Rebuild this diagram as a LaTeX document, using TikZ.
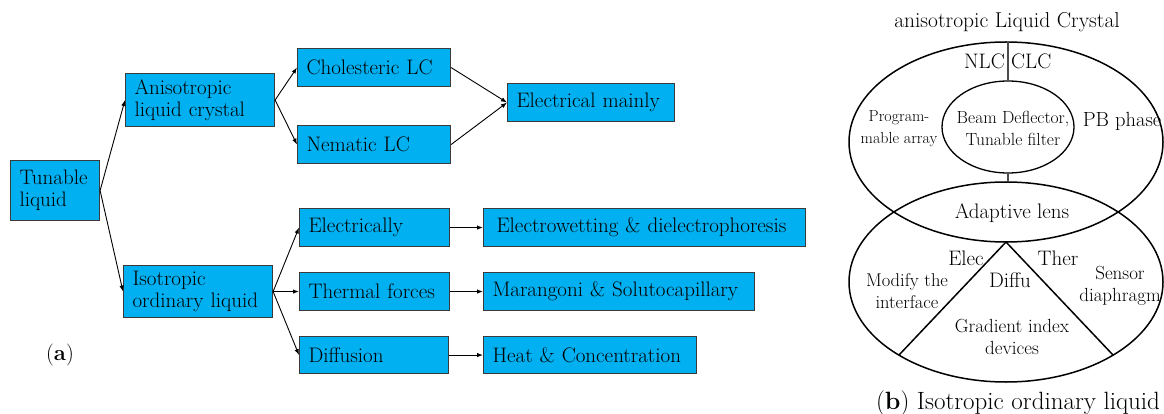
\documentclass[tikz,border=0pt]{standalone}
\usepackage{fontspec}
\usetikzlibrary{arrows.meta,positioning,calc}
\definecolor{lcblue}{HTML}{00B0F0}
\definecolor{boxline}{HTML}{3A3A3A}
\newcommand{\setfs}[2]{\fontsize{#1}{#2}\selectfont}

\begin{document}
\begin{tikzpicture}[x=1pt, y=-1pt, >={Latex[length=6pt,width=4.5pt]}, font=\setfs{21}{22},
  box/.style={draw=boxline, line width=1.1pt, fill=lcblue, anchor=north west, align=left,
    inner xsep=9pt, inner ysep=0pt, minimum height=38pt},
  arr/.style={->, line width=0.9pt},
  ring/.style={line width=1.5pt},
  tag/.style={align=center, font=\setfs{18.5}{21.5}}]
\useasboundingbox (0,0) rectangle (1164,414);

% (a) classification tree
\node[box, text width=71pt, minimum height=60pt] (tun) at (10,160) {Tunable\\liquid};
\node[box, text width=131pt, minimum height=53pt] (ani) at (125,73) {Anisotropic\\liquid crystal};
\node[box, text width=135pt] (cho) at (297,48) {Cholesteric LC};
\node[box, text width=135pt] (nem) at (297,125) {Nematic LC};
\node[box, text width=149pt] (elm) at (507,83) {Electrical mainly};
\node[box, text width=131pt, minimum height=52pt] (iso) at (123,265) {Isotropic\\ordinary liquid};
\node[box, text width=132pt] (elc) at (299,208) {Electrically};
\node[box, text width=132pt] (thf) at (299,272) {Thermal forces};
\node[box, text width=131pt, minimum height=37pt] (dif) at (299,336) {Diffusion};
\node[box, text width=296pt, inner xsep=13pt] (ewd) at (483,208) {Electrowetting \& dielectrophoresis};
\node[box, text width=253pt] (mar) at (483,272) {Marangoni \& Solutocapillary};
\node[box, text width=195pt, minimum height=37pt] (hac) at (483,336) {Heat \& Concentration};
\node[font=\setfs{22}{24}] (capa) at (60,355) {(\textbf{a})};

\draw[arr] (tun.east) -- (ani.west);
\draw[arr] (tun.east) -- (iso.west);
\draw[arr] (ani.east) -- (cho.west);
\draw[arr] (ani.east) -- (nem.west);
\draw[arr] (cho.east) -- (elm.west);
\draw[arr] (nem.east) -- (elm.west);
\draw[arr] (iso.east) -- (elc.west);
\draw[arr] (iso.east) -- (thf.west);
\draw[arr] (iso.east) -- (dif.west);
\draw[arr] (elc.east) -- (ewd.west);
\draw[arr] (thf.east) -- (mar.west);
\draw[arr] (dif.east) -- (hac.west);

% (b) overlapping ellipses
\coordinate (lc) at (1006,142);
\coordinate (il) at (1006,282);
\coordinate (bd) at (1008,127);
\draw[ring] (lc) ellipse [x radius=157pt, y radius=100pt];
\draw[ring] (il) ellipse [x radius=157pt, y radius=100pt];
\draw[line width=1.3pt] (bd) ellipse [x radius=66pt, y radius=46pt];
\draw[line width=1.2pt, black!70] (1008,42) -- (1008,81);
\draw[line width=1.2pt, black!70] (1008,173) -- (1008,182);
\coordinate (apex) at (1006,242);
\draw[ring] ($(il)+(-107,73)$) -- (apex) -- ($(il)+(107,73)$);

\node[font=\setfs{21.5}{22}] (lctitle) at (1007,22) {anisotropic Liquid Crystal};
\node[font=\setfs{21}{22}, anchor=east, inner xsep=3pt] (nlc) at (1008,61) {NLC};
\node[font=\setfs{21}{22}, anchor=west, inner xsep=3pt] (clc) at (1008,61) {CLC};
\node[tag, font=\setfs{16}{22}] (prog) at (899,129) {Program-\\mable array};
\node[tag, font=\setfs{17.5}{22}] (beam) at (1013,128) {Beam Deflector,\\Tunable filter};
\node[font=\setfs{20.5}{22}] (pb) at (1122,121) {PB phase};
\node[font=\setfs{21}{22}] (adl) at (1012,213) {Adaptive lens};
\node[font=\setfs{21}{22}] (elec) at (966,258) {Elec};
\node[font=\setfs{21}{22}] (ther) at (1058,258) {Ther};
\node[font=\setfs{21}{22}] (diffu) at (1010,280) {Diffu};
\node[tag] (modi) at (907,291) {Modify the\\interface};
\node[tag, font=\setfs{19}{21.5}] (sens) at (1120,286) {Sensor\\diaphragm};
\node[tag, font=\setfs{19}{21.5}] (grad) at (1012,337) {Gradient index\\devices};
\node[font=\setfs{25}{26}] (capb) at (1018,403) {(\textbf{b}) Isotropic ordinary liquid};
\end{tikzpicture}
\end{document}
